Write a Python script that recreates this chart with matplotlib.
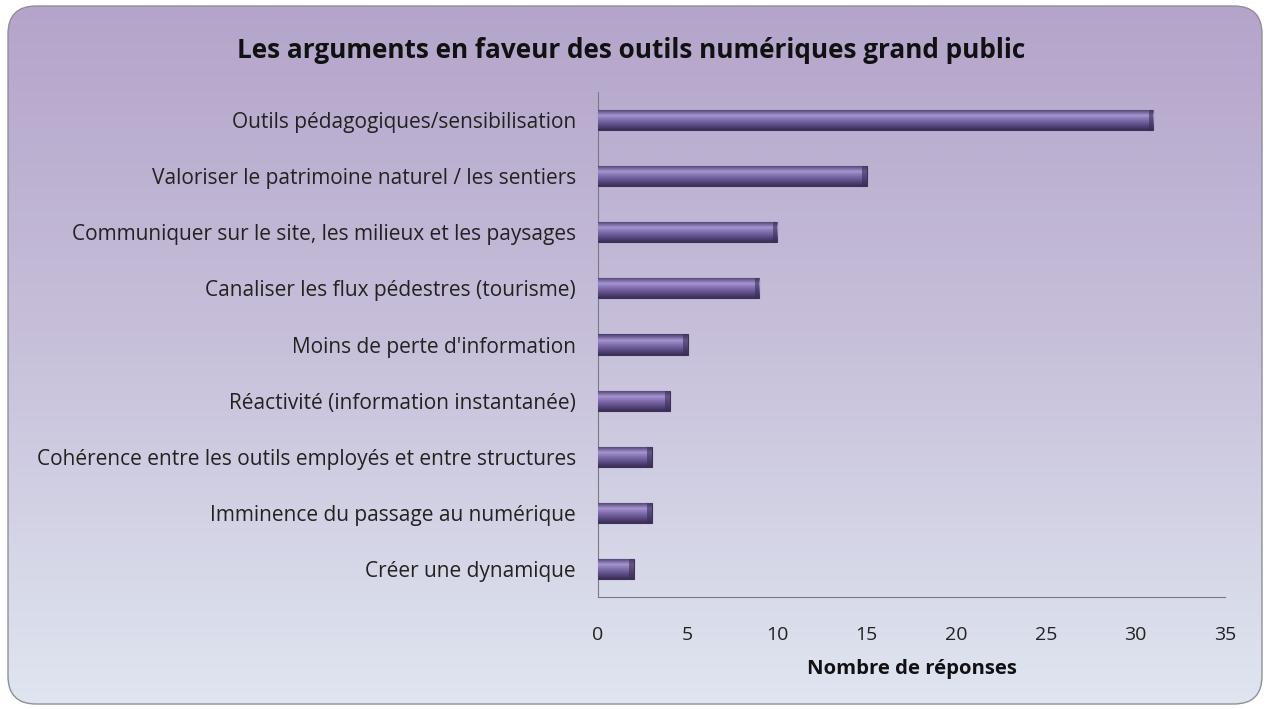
import numpy as np
import matplotlib.pyplot as plt
from matplotlib.patches import FancyBboxPatch
from matplotlib.colors import LinearSegmentedColormap

# Données
categories = [
    "Outils pédagogiques/sensibilisation",
    "Valoriser le patrimoine naturel / les sentiers",
    "Communiquer sur le site, les milieux et les paysages",
    "Canaliser les flux pédestres (tourisme)",
    "Moins de perte d'information",
    "Réactivité (information instantanée)",
    "Cohérence entre les outils employés et entre structures",
    "Imminence du passage au numérique",
    "Créer une dynamique",
]
reponses = [31, 15, 10, 9, 5, 4, 3, 3, 2]
x_ticks = [0, 5, 10, 15, 20, 25, 30, 35]

plt.rcParams['font.family'] = ['Open Sans', 'DejaVu Sans']

fig = plt.figure(figsize=(12.68, 7.09), dpi=100)
fig.patch.set_facecolor('white')

# Fond dégradé dans un cadre arrondi
bg = fig.add_axes([0, 0, 1, 1])
bg.set_xlim(0, 1268)
bg.set_ylim(709, 0)
bg.axis('off')
cmap = LinearSegmentedColormap.from_list('fond', ['#b4a4ca', '#c8c1db', '#dfe6f0'])
grad = np.linspace(0, 1, 256).reshape(-1, 1)
img = bg.imshow(grad, cmap=cmap, extent=[8, 1262, 704, 6], aspect='auto', zorder=0)
cadre = FancyBboxPatch((8, 6), 1254, 698, boxstyle='round,pad=0,rounding_size=28',
                       facecolor='none', edgecolor='#8f8f9a', linewidth=1.0, zorder=2)
bg.add_patch(cadre)
img.set_clip_path(cadre)

ax = fig.add_axes([598 / 1268, 1 - 597 / 709, (1225 - 598) / 1268, (597 - 92) / 709])
ax.patch.set_alpha(0)

y = np.arange(len(categories))
bars = ax.barh(y, reponses, height=0.36, color='#5e4d86', edgecolor='#3e3158',
               linewidth=0.8, zorder=3)

# effet biseauté : dégradé vertical dans chaque barre
bar_cmap = LinearSegmentedColormap.from_list(
    'barre', [(0, '#4a3b6c'), (0.3, '#a595cf'), (0.45, '#8b79b8'),
              (0.75, '#5f4d88'), (1, '#3a2e54')])
vgrad = np.linspace(0, 1, 64).reshape(-1, 1)
for b in bars:
    x0, y0 = b.get_x(), b.get_y()
    w, h = b.get_width(), b.get_height()
    im = ax.imshow(vgrad, cmap=bar_cmap, extent=[x0, x0 + w, y0 + h, y0],
                   aspect='auto', zorder=3.5)
    im.set_clip_path(b)
ax.barh(y, [0.25] * len(reponses), left=np.array(reponses) - 0.25, height=0.36,
        color='#3a2e54', alpha=0.6, edgecolor='none', zorder=4)

ax.set_ylim(8.5, -0.5)
ax.set_xlim(0, 35)
ax.set_xticks(x_ticks)
ax.set_yticks(y)
ax.set_yticklabels(categories, fontsize=15, color='#222222')
ax.tick_params(axis='both', length=0, colors='#222222')
ax.tick_params(axis='y', pad=16, labelsize=15)
ax.tick_params(axis='x', pad=21, labelsize=14)

for s in ['top', 'right']:
    ax.spines[s].set_visible(False)
ax.spines['left'].set_color('#7a7a86')
ax.spines['bottom'].set_color('#7a7a86')

ax.set_xlabel('Nombre de réponses', fontsize=14.6, fontweight='bold', color='#111111', labelpad=11)

fig.text(631 / 1268, 1 - 50 / 709, 'Les arguments en faveur des outils numériques grand public',
         ha='center', va='center', fontsize=18.8, fontweight='bold', color='#111111')

fig.savefig('out.png', dpi=100)
